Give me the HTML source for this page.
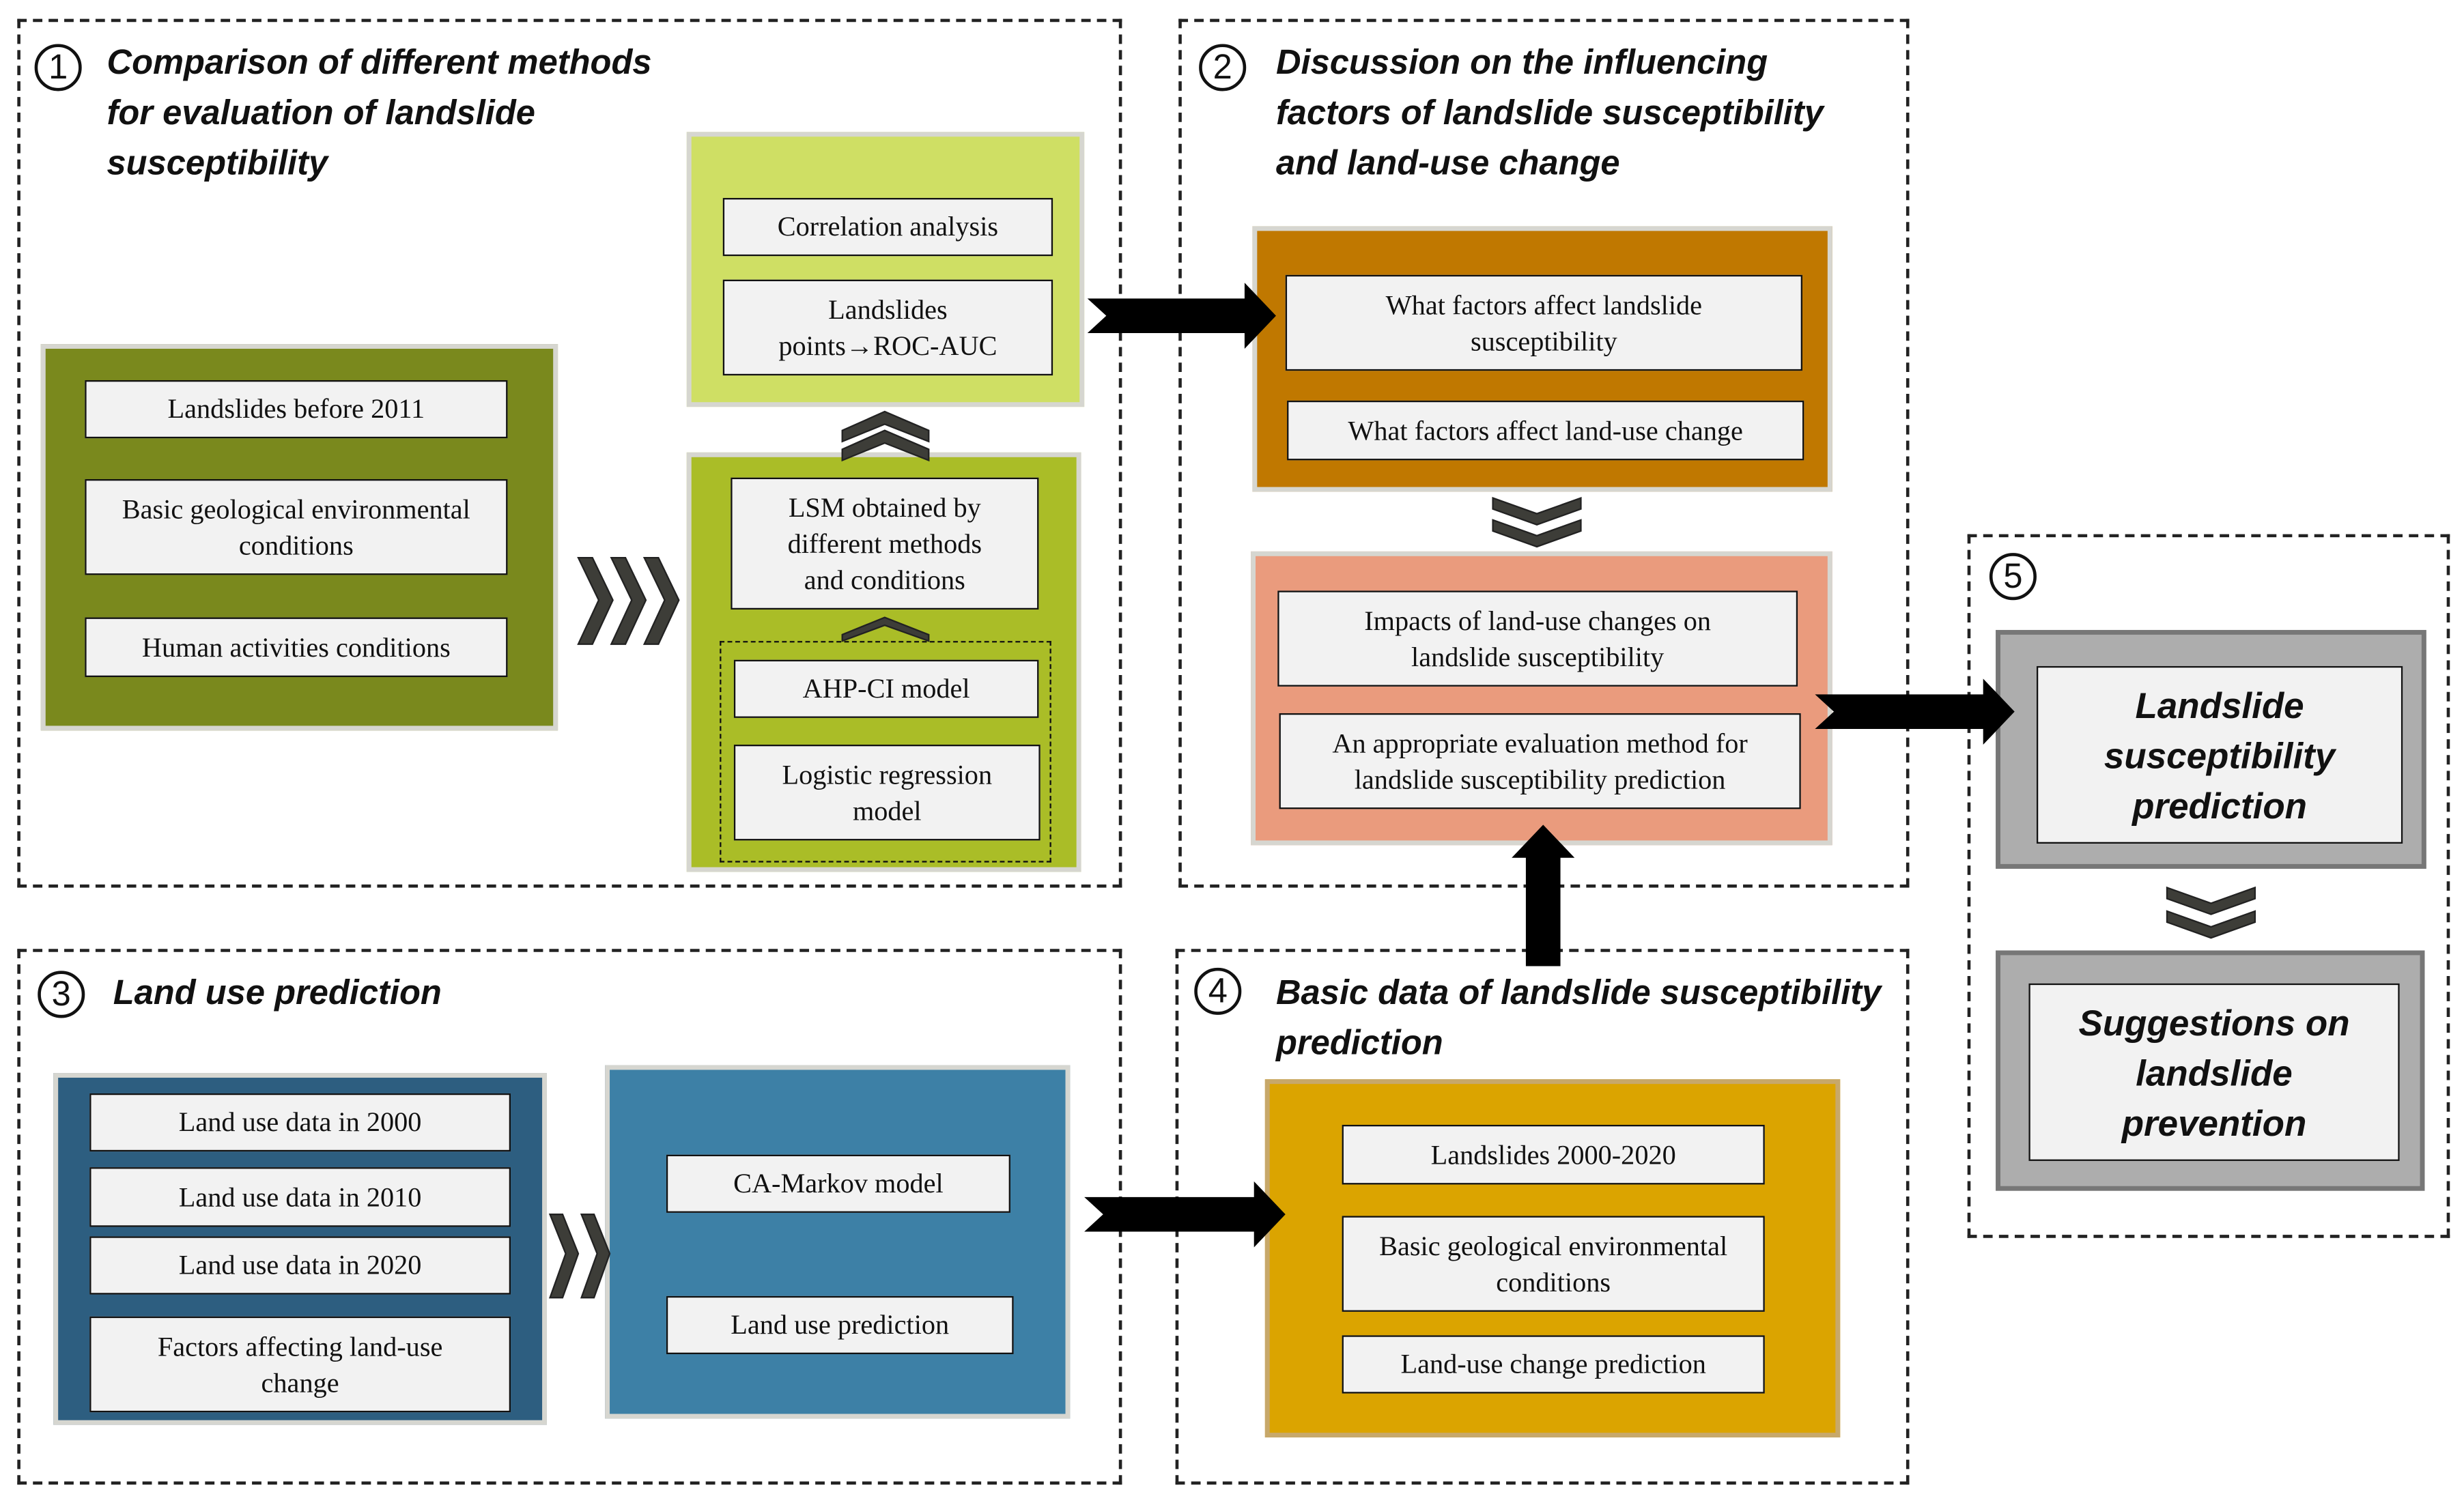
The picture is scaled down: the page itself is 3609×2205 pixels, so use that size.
<!DOCTYPE html>
<html><head><meta charset="utf-8"><style>
html,body{margin:0;padding:0;background:#fff;}
#wrap{position:relative;width:1568px;height:958px;transform:scale(2.30166);transform-origin:0 0;}
.d{position:absolute;border:2px dashed #222;box-sizing:border-box;}
.p{position:absolute;box-sizing:border-box;border:3px solid #d6d6d0;}
.b{position:absolute;box-sizing:border-box;background:#f2f2f2;border:1.5px solid #111;display:flex;align-items:center;justify-content:center;text-align:center;font-family:"Liberation Serif",serif;font-size:17.5px;line-height:23px;color:#111;}
.t{position:absolute;font-family:"Liberation Sans",sans-serif;font-weight:bold;font-style:italic;font-size:22px;line-height:32px;color:#111;}
.n{position:absolute;width:30px;height:30px;border:2px solid #111;border-radius:50%;box-sizing:border-box;font-family:"Liberation Sans",sans-serif;font-size:22px;line-height:26px;text-align:center;color:#111;}
.big{font-family:"Liberation Sans",sans-serif;font-weight:bold;font-style:italic;font-size:23px;line-height:32px;}
svg{position:absolute;left:0;top:0;}
</style></head><body><div id="wrap">
<div class="d" style="left:11px;top:12px;width:703px;height:553px"></div>
<div class="d" style="left:750px;top:12px;width:465px;height:553px"></div>
<div class="d" style="left:11px;top:604px;width:703px;height:341px"></div>
<div class="d" style="left:748px;top:604px;width:467px;height:341px"></div>
<div class="d" style="left:1252px;top:340px;width:307px;height:448px"></div>

<div class="n" style="left:22px;top:28px">1</div>
<div class="t" style="left:68px;top:24px">Comparison of different methods<br>for evaluation of landslide<br>susceptibility</div>
<div class="n" style="left:763px;top:28px">2</div>
<div class="t" style="left:812px;top:24px">Discussion on the influencing<br>factors of landslide susceptibility<br>and land-use change</div>
<div class="n" style="left:24px;top:618px">3</div>
<div class="t" style="left:72px;top:616px">Land use prediction</div>
<div class="n" style="left:760px;top:616px">4</div>
<div class="t" style="left:812px;top:616px">Basic data of landslide susceptibility<br>prediction</div>
<div class="n" style="left:1266px;top:352px">5</div>

<!-- panel 1 -->
<div class="p" style="left:26px;top:219px;width:329px;height:246px;background:#7a891d"></div>
<div class="b" style="left:54px;top:242px;width:269px;height:37px">Landslides before 2011</div>
<div class="b" style="left:54px;top:305px;width:269px;height:61px">Basic geological environmental<br>conditions</div>
<div class="b" style="left:54px;top:393px;width:269px;height:38px">Human activities conditions</div>
<div class="p" style="left:437px;top:84px;width:253px;height:175px;background:#cfdf64"></div>
<div class="b" style="left:460px;top:126px;width:210px;height:37px">Correlation analysis</div>
<div class="b" style="left:460px;top:178px;width:210px;height:61px">Landslides<br>points→ROC-AUC</div>
<div class="p" style="left:437px;top:288px;width:251px;height:267px;background:#aabd27"></div>
<div class="b" style="left:465px;top:304px;width:196px;height:84px">LSM obtained by<br>different methods<br>and conditions</div>
<div style="position:absolute;left:458px;top:408px;width:211px;height:141px;border:1.5px dashed #111;box-sizing:border-box"></div>
<div class="b" style="left:467px;top:420px;width:194px;height:37px">AHP-CI model</div>
<div class="b" style="left:467px;top:474px;width:195px;height:61px">Logistic regression<br>model</div>

<!-- panel 2 -->
<div class="p" style="left:797px;top:144px;width:369px;height:169px;background:#c07800"></div>
<div class="b" style="left:818px;top:175px;width:329px;height:61px">What factors affect landslide<br>susceptibility</div>
<div class="b" style="left:819px;top:255px;width:329px;height:38px">What factors affect land-use change</div>
<div class="p" style="left:796px;top:351px;width:370px;height:187px;background:#ea9b7d"></div>
<div class="b" style="left:813px;top:376px;width:331px;height:61px">Impacts of land-use changes on<br>landslide susceptibility</div>
<div class="b" style="left:814px;top:454px;width:332px;height:61px">An appropriate evaluation method for<br>landslide susceptibility prediction</div>

<!-- panel 5 -->
<div class="p" style="left:1270px;top:401px;width:274px;height:152px;background:#adadad;border-color:#777"></div>
<div class="b big" style="left:1296px;top:424px;width:233px;height:113px">Landslide<br>susceptibility<br>prediction</div>
<div class="p" style="left:1270px;top:605px;width:273px;height:153px;background:#adadad;border-color:#777"></div>
<div class="b big" style="left:1291px;top:626px;width:236px;height:113px">Suggestions on<br>landslide<br>prevention</div>

<!-- panel 3 -->
<div class="p" style="left:34px;top:683px;width:314px;height:224px;background:#2d5e80"></div>
<div class="b" style="left:57px;top:696px;width:268px;height:37px">Land use data in 2000</div>
<div class="b" style="left:57px;top:743px;width:268px;height:38px">Land use data in 2010</div>
<div class="b" style="left:57px;top:787px;width:268px;height:37px">Land use data in 2020</div>
<div class="b" style="left:57px;top:838px;width:268px;height:61px">Factors affecting land-use<br>change</div>
<div class="p" style="left:385px;top:678px;width:296px;height:225px;background:#3d80a6"></div>
<div class="b" style="left:424px;top:735px;width:219px;height:37px">CA-Markov model</div>
<div class="b" style="left:424px;top:825px;width:221px;height:37px">Land use prediction</div>

<!-- panel 4 -->
<div class="p" style="left:805px;top:687px;width:366px;height:228px;background:#dba400;border-color:#c7a86a"></div>
<div class="b" style="left:854px;top:716px;width:269px;height:38px">Landslides 2000-2020</div>
<div class="b" style="left:854px;top:774px;width:269px;height:61px">Basic geological environmental<br>conditions</div>
<div class="b" style="left:854px;top:850px;width:269px;height:37px">Land-use change prediction</div>

<svg width="1568" height="958" viewBox="0 0 1568 958">
<g fill="#000">
<!-- arrow 1 to 2 -->
<polygon points="692,190 792,190 792,180 812,201 792,222 792,212 692,212 704,201"/>
<!-- arrow 2 to 5 -->
<polygon points="1155,442 1262,442 1262,432 1282,453 1262,474 1262,464 1155,464 1167,453"/>
<!-- arrow 3 to 4 -->
<polygon points="690,762 798,762 798,752 818,773 798,794 798,784 690,784 702,773"/>
<!-- up arrow 4 to 2 -->
<polygon points="971,615 971,546 962,546 982,525 1002,546 993,546 993,615"/>
</g>
<g fill="#3d3d38" stroke="#222" stroke-width="1">
<!-- chevrons up panel1 -->
<polygon points="536,274 563,262 591,274 591,281 563,270 536,281"/>
<polygon points="536,286 563,274 591,286 591,293 563,282 536,293"/>
<polygon points="536,404 563,393 591,404 591,408 563,398 536,408"/>
<!-- right chevrons panel1 -->
<polygon points="368,355 381,382 368,410 377,410 390,382 377,355"/>
<polygon points="389,355 402,382 389,410 398,410 411,382 398,355"/>
<polygon points="410,355 423,382 410,410 419,410 432,382 419,355"/>
<!-- panel 3 chevrons -->
<polygon points="350,773 360,798 350,826 358,826 368,798 358,773"/>
<polygon points="370,773 380,798 370,826 378,826 388,798 378,773"/>
<!-- down chevrons panel2 -->
<polygon points="950,317 978,327 1006,317 1006,324 978,334 950,324"/>
<polygon points="950,331 978,341 1006,331 1006,338 978,348 950,338"/>
<!-- down chevrons panel5 -->
<polygon points="1379,565 1407,575 1435,565 1435,572 1407,582 1379,572"/>
<polygon points="1379,580 1407,590 1435,580 1435,587 1407,597 1379,587"/>
</g>
</svg>
</div></body></html>
